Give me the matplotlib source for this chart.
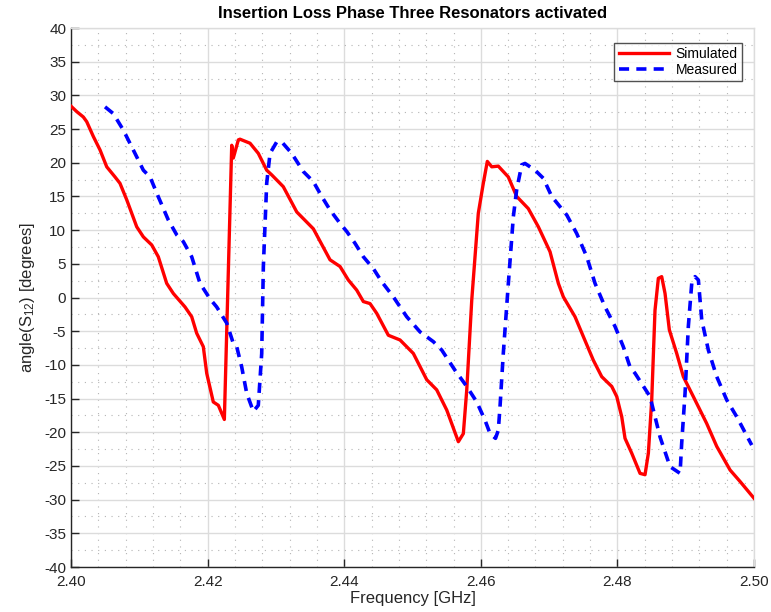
import matplotlib
matplotlib.use("Agg")
import matplotlib.pyplot as plt
from matplotlib.ticker import MultipleLocator, FormatStrFormatter

plt.rcParams['font.family'] = ['Liberation Sans', 'DejaVu Sans']
plt.rcParams['axes.unicode_minus'] = False
plt.rcParams['mathtext.fontset'] = 'custom'
plt.rcParams['mathtext.rm'] = 'Liberation Sans'
plt.rcParams['mathtext.it'] = 'Liberation Sans'
plt.rcParams['mathtext.default'] = 'regular'

sim_freq = [2.4000, 2.40083, 2.4018, 2.4023, 2.40327, 2.40425, 2.40523, 2.40644, 2.40717,
            2.40816, 2.40962, 2.41059, 2.41182, 2.41278, 2.41401, 2.41498, 2.41669, 2.41767,
            2.4184, 2.41937, 2.41987, 2.42083, 2.42157, 2.42245, 2.42353, 2.42376, 2.4245,
            2.42474, 2.42621, 2.42742, 2.42865, 2.42939, 2.43108, 2.43305, 2.43548, 2.43792,
            2.43939, 2.4406, 2.44183, 2.4428, 2.44378, 2.44476, 2.44646, 2.44817, 2.45012,
            2.45208, 2.45354, 2.45501, 2.45671, 2.45744, 2.45794, 2.45867, 2.45963, 2.46037,
            2.46095, 2.4616, 2.46256, 2.46402, 2.46525, 2.46695, 2.46842, 2.47013, 2.47135,
            2.47208, 2.47379, 2.47501, 2.47647, 2.4777, 2.47917, 2.4799, 2.48063, 2.48111,
            2.48209, 2.48331, 2.48404, 2.48453, 2.48502, 2.4855, 2.48599, 2.48648, 2.48697,
            2.4876, 2.48868, 2.48965, 2.49111, 2.49307, 2.49454, 2.49649, 2.49795, 2.5000]
sim_phase = [28.4, 27.6, 26.8, 26.1, 23.9, 21.9, 19.4, 17.9, 16.95,
             14.5, 10.5, 9.0, 7.8, 6.05, 2.1, 0.6, -1.4, -2.85,
             -5.3, -7.3, -11.25, -15.5, -16.0, -18.1, 22.6, 20.7, 23.4,
             23.5, 22.9, 21.4, 18.9, 18.2, 16.45, 12.7, 10.2, 5.6,
             4.6, 2.6, 1.1, -0.6, -0.9, -2.35, -5.6, -6.3, -8.3,
             -12.2, -13.7, -16.7, -21.4, -20.2, -13.7, -0.4, 12.5, 17.0,
             20.2, 19.4, 19.5, 17.9, 15.0, 13.2, 10.5, 6.8, 2.1,
             0.1, -2.85, -5.8, -9.3, -11.75, -13.2, -14.7, -17.7, -20.9,
             -23.1, -26.1, -26.3, -23.1, -15.2, -1.9, 2.85, 3.1, 0.6,
             -4.8, -8.3, -11.75, -14.7, -18.7, -22.1, -25.6, -27.3, -29.8]

meas_freq = [2.40498, 2.40619, 2.40766, 2.40912, 2.41059, 2.41157, 2.41278, 2.41425, 2.41548,
             2.41644, 2.41767, 2.41889, 2.42035, 2.42133, 2.4228, 2.42376, 2.42426, 2.42499,
             2.42572, 2.42669, 2.42742, 2.42792, 2.42816, 2.42865, 2.42914, 2.43012, 2.43085,
             2.43231, 2.43401, 2.43548, 2.43671, 2.43792, 2.43939, 2.44037, 2.44158, 2.4428,
             2.44426, 2.44549, 2.44719, 2.44915, 2.4511, 2.45305, 2.45428, 2.45622, 2.45794,
             2.4594, 2.46061, 2.46135, 2.46215, 2.46256, 2.46281, 2.46329, 2.46403, 2.46476,
             2.46525, 2.46599, 2.46647, 2.46794, 2.46915, 2.47038, 2.47258, 2.47404, 2.47551,
             2.47672, 2.47819, 2.47965, 2.48086, 2.48184, 2.48258, 2.48477, 2.48624, 2.4877,
             2.48917, 2.48941, 2.4899, 2.49038, 2.49088, 2.49136, 2.49185, 2.49234, 2.49331,
             2.49454, 2.496, 2.49747, 2.49966]
meas_phase = [28.3, 27.3, 24.85, 21.9, 18.9, 17.9, 14.95, 11.5, 9.3,
              8.3, 6.05, 2.1, -0.2, -1.4, -3.8, -6.8, -7.3, -10.3,
              -14.2, -16.9, -16.0, -8.3, 4.6, 16.95, 21.4, 23.1, 23.1,
              21.4, 18.7, 17.2, 15.0, 13.0, 11.0, 9.8, 8.05, 6.05,
              4.3, 2.35, 0.1, -2.85, -5.1, -6.55, -7.8, -10.8, -13.2,
              -15.5, -18.2, -20.2, -20.9, -19.7, -16.2, -8.3, 2.1, 12.0,
              16.0, 19.7, 19.9, 18.9, 17.7, 15.0, 12.25, 9.5, 6.05,
              2.1, -1.4, -4.3, -7.3, -10.3, -11.25, -14.7, -20.7, -25.1,
              -26.1, -21.6, -14.2, -4.3, 2.1, 3.1, 2.6, -3.3, -7.8,
              -11.75, -15.2, -17.7, -21.9]

title = "Insertion Loss Phase Three Resonators activated"
xlabel = "Frequency [GHz]"
ylabel = "angle(S$_{12}$) [degrees]"
series_labels = ["Simulated", "Measured"]

fig = plt.figure(figsize=(7.71, 6.12), dpi=100)
ax = fig.add_axes([0.0921, 0.0735, 0.8859, 0.8807])

ax.plot(sim_freq, sim_phase, color='#ff0000', lw=2.4, label=series_labels[0], zorder=3)
ax.plot(meas_freq, meas_phase, color='#0000ff', lw=2.6, ls=(0, (2.8, 2.0)),
        label=series_labels[1], zorder=3)

ax.set_xlim(2.40, 2.50)
ax.set_ylim(-40, 40)
ax.xaxis.set_major_locator(MultipleLocator(0.02))
ax.xaxis.set_minor_locator(MultipleLocator(0.004))
ax.yaxis.set_major_locator(MultipleLocator(5))
ax.yaxis.set_minor_locator(MultipleLocator(2.5))
ax.xaxis.set_major_formatter(FormatStrFormatter('%.2f'))

ax.grid(which='major', color='#dcdcdc', lw=1.0, ls='-')
ax.grid(which='minor', color='#b4b4b4', lw=0.8, ls=(0, (1, 5)))
ax.set_axisbelow(True)

ax.tick_params(which='major', direction='in', length=6, width=1, colors='#262626',
               labelsize=11, top=False, right=False)
ax.tick_params(which='minor', direction='in', length=0, top=False, right=False)
ax.tick_params(axis='x', pad=6)

for s in ['left', 'bottom']:
    ax.spines[s].set_color('#262626')
    ax.spines[s].set_linewidth(1.0)
for s in ['top', 'right']:
    ax.spines[s].set_color('#dcdcdc')
    ax.spines[s].set_linewidth(1.0)

ax.set_title(title, fontsize=12, fontweight='bold', pad=7)
ax.set_xlabel(xlabel, fontsize=12, color='#262626', labelpad=1)
ax.set_ylabel(ylabel, fontsize=12, color='#262626', labelpad=5)

leg = ax.legend(loc='upper right', bbox_to_anchor=(0.982, 0.972), fontsize=10,
                frameon=True, fancybox=False, handlelength=3.6, borderpad=0.3,
                labelspacing=0.1, handletextpad=0.5, borderaxespad=0)
leg.get_frame().set_edgecolor('#262626')
leg.get_frame().set_linewidth(1.0)

fig.savefig('out.png', dpi=100)
